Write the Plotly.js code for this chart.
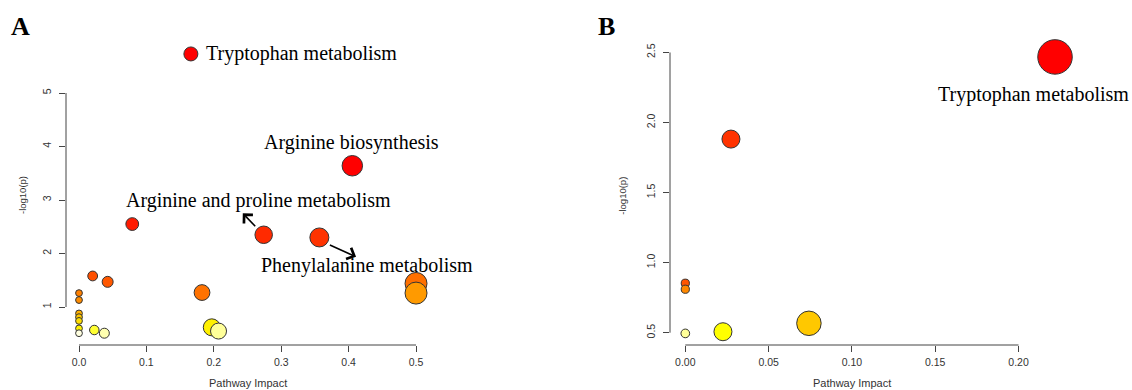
<!DOCTYPE html>
<html>
<head>
<meta charset="utf-8">
<script src="https://cdn.plot.ly/plotly-3.0.1.min.js"></script>
<style>
  html, body { margin: 0; padding: 0; background: #fff; }
  #chart { width: 1132px; height: 390px; }
</style>
</head>
<body>
<div id="chart"></div>
<script>
// ---------- Panel A data ----------
var aPathway = ["Tryptophan metabolism", "Arginine biosynthesis", "Arginine and proline metabolism",
  "Phenylalanine metabolism", "pathway 5", "pathway 6", "pathway 7", "pathway 8", "pathway 9",
  "pathway 10", "pathway 11", "pathway 12", "pathway 13", "pathway 14", "pathway 15", "pathway 16",
  "pathway 17", "pathway 18", "pathway 19", "pathway 20", "pathway 21"];
var aImpact = [0.166, 0.4055, 0.274, 0.3566, 0.079, 0.0203, 0.0425, 0.5, 0.5, 0.1825,
  0, 0, 0, 0, 0, 0, 0, 0.0227, 0.0376, 0.197, 0.207];
var aLogP = [5.73, 3.64, 2.35, 2.30, 2.55, 1.58, 1.47, 1.44, 1.26, 1.27,
  1.26, 1.13, 0.88, 0.81, 0.74, 0.60, 0.51, 0.57, 0.51, 0.62, 0.55];

// ---------- Panel B data ----------
var bPathway = ["pathway 1", "pathway 2", "pathway 3", "pathway 4", "pathway 5", "pathway 6", "Tryptophan metabolism"];
var bImpact = [0.0, 0.0226, 0.0742, 0.0, 0.0, 0.0274, 0.2219];
var bLogP = [0.495, 0.507, 0.567, 0.853, 0.81, 1.881, 2.467];

// ---------- tick labels ----------
var aXTicks = [0, 0.1, 0.2, 0.3, 0.4, 0.5];
var aXTickText = ["0.0", "0.1", "0.2", "0.3", "0.4", "0.5"];
var aYTicks = [1, 2, 3, 4, 5];
var bXTicks = [0, 0.05, 0.10, 0.15, 0.20];
var bXTickText = ["0.00", "0.05", "0.10", "0.15", "0.20"];
var bYTicks = [0.5, 1.0, 1.5, 2.0, 2.5];
var bYTickText = ["0.5", "1.0", "1.5", "2.0", "2.5"];

// ---------- styles (kept apart from data) ----------
var aMarkerSize = [14, 20.5, 17.5, 19, 12.8, 9.8, 11, 22, 22, 15.8,
  6.8, 6.8, 6.8, 6.8, 6.8, 6.8, 6.8, 9.5, 10, 17, 16];
var aMarkerColor = ["#FF0000", "#FF0000", "#FF2A00", "#FF3300", "#FF1A00", "#FF5000", "#FF5800",
  "#FF7000", "#FF9A00", "#FF7200", "#FF8000", "#FF8C00", "#FFB000", "#FFC800", "#FFDD00",
  "#FFF200", "#FFFFE0", "#FFFF33", "#FFFFB0", "#FFF000", "#FFFF99"];
var bMarkerSize = [8.7, 18, 24.5, 8.2, 8.2, 18, 34.5];
var bMarkerColor = ["#FFFF99", "#FFFF00", "#FFC800", "#FF5500", "#FF8800", "#FF3300", "#FF0000"];

var serif = "Liberation Serif, Times New Roman, serif";
var sans = "Liberation Sans, Arial, Helvetica, sans-serif";

var traces = [
  {
    type: "scatter", mode: "markers", x: aImpact, y: aLogP, text: aPathway,
    xaxis: "x", yaxis: "y", cliponaxis: false, hoverinfo: "text+x+y",
    marker: { size: aMarkerSize, color: aMarkerColor, opacity: 1, line: { color: "#333", width: 1 } }
  },
  {
    type: "scatter", mode: "markers", x: bImpact, y: bLogP, text: bPathway,
    xaxis: "x2", yaxis: "y2", cliponaxis: false, hoverinfo: "text+x+y",
    marker: { size: bMarkerSize, color: bMarkerColor, opacity: 1, line: { color: "#333", width: 1 } }
  }
];

var tickFont = { family: sans, size: 10.5, color: "#333" };

var axisCommon = {
  showline: false, showgrid: false, zeroline: false,
  ticks: "outside", ticklen: 6, tickwidth: 1, tickcolor: "#444",
  tickfont: tickFont, fixedrange: true
};

// panel A: y = 1 at 307 px, 53.5 px per unit; top of plot area at value 6
var layout = {
  width: 1132, height: 390,
  margin: { l: 0, r: 0, t: 0, b: 0 },
  paper_bgcolor: "#fff", plot_bgcolor: "#fff",
  showlegend: false,
  xaxis: Object.assign({}, axisCommon, {
    domain: [66 / 1132, 500 / 1132], range: [-0.01929, 0.6246], anchor: "y",
    tickvals: aXTicks, ticktext: aXTickText, ticklabelstandoff: 1
  }),
  yaxis: Object.assign({}, axisCommon, {
    domain: [1 - 345 / 390, 1 - 39.5 / 390], range: [0.2897, 6.0], anchor: "x",
    tickvals: aYTicks, tickangle: -90, ticklabelstandoff: 4
  }),
  xaxis2: Object.assign({}, axisCommon, {
    domain: [670 / 1132, 1110 / 1132], range: [-0.00918, 0.2549], anchor: "y2",
    tickvals: bXTicks, ticktext: bXTickText, ticklabelstandoff: 1
  }),
  yaxis2: Object.assign({}, axisCommon, {
    domain: [1 - 345 / 390, 1 - 52.3 / 390], range: [0.4123, 2.5], anchor: "x2",
    tickvals: bYTicks, ticktext: bYTickText, tickangle: -90, ticklabelstandoff: 4
  }),
  shapes: [
    { type: "line", xref: "x domain", yref: "y", x0: 0, x1: 0, y0: aYTicks[0], y1: aYTicks[aYTicks.length - 1], line: { color: "#444", width: 1 } },
    { type: "line", xref: "x", yref: "y domain", x0: aXTicks[0], x1: aXTicks[aXTicks.length - 1], y0: 0, y1: 0, line: { color: "#444", width: 1 } },
    { type: "line", xref: "x2 domain", yref: "y2", x0: 0, x1: 0, y0: bYTicks[0], y1: bYTicks[bYTicks.length - 1], line: { color: "#444", width: 1 } },
    { type: "line", xref: "x2", yref: "y2 domain", x0: bXTicks[0], x1: bXTicks[bXTicks.length - 1], y0: 0, y1: 0, line: { color: "#444", width: 1 } }
  ],
  annotations: [
    // panel letters
    { xref: "paper", yref: "paper", x: 20 / 1132, y: 1 - 27 / 390, text: "<b>A</b>", showarrow: false,
      font: { family: serif, size: 26, color: "#000" }, xanchor: "center", yanchor: "middle" },
    { xref: "paper", yref: "paper", x: 606 / 1132, y: 1 - 27 / 390, text: "<b>B</b>", showarrow: false,
      font: { family: serif, size: 26, color: "#000" }, xanchor: "center", yanchor: "middle" },
    // axis titles
    { xref: "paper", yref: "paper", x: 248 / 1132, y: 1 - 383 / 390, text: "Pathway Impact", showarrow: false,
      font: { family: sans, size: 11, color: "#333" }, xanchor: "center", yanchor: "middle" },
    { xref: "paper", yref: "paper", x: 22 / 1132, y: 1 - 195 / 390, text: "-log10(p)", showarrow: false, textangle: -90,
      font: { family: sans, size: 9.5, color: "#333" }, xanchor: "center", yanchor: "middle" },
    { xref: "paper", yref: "paper", x: 851.7 / 1132, y: 1 - 383 / 390, text: "Pathway Impact", showarrow: false,
      font: { family: sans, size: 11, color: "#333" }, xanchor: "center", yanchor: "middle" },
    { xref: "paper", yref: "paper", x: 621.7 / 1132, y: 1 - 196 / 390, text: "-log10(p)", showarrow: false, textangle: -90,
      font: { family: sans, size: 9.5, color: "#333" }, xanchor: "center", yanchor: "middle" },
    // pathway labels, panel A
    { xref: "x", yref: "y", x: 0.1855, y: aLogP[0], text: aPathway[0], showarrow: false,
      font: { family: serif, size: 20, color: "#000" }, xanchor: "left", yanchor: "middle" },
    { xref: "x", yref: "y", x: 0.4036, y: 4.071, text: aPathway[1], showarrow: false,
      font: { family: serif, size: 20, color: "#000" }, xanchor: "center", yanchor: "middle" },
    { xref: "x", yref: "y", x: 0.2656, y: 2.987, text: aPathway[2], showarrow: false,
      font: { family: serif, size: 20, color: "#000" }, xanchor: "center", yanchor: "middle" },
    { xref: "x", yref: "y", x: 0.4273, y: 1.785, text: aPathway[3], showarrow: false,
      font: { family: serif, size: 20, color: "#000" }, xanchor: "center", yanchor: "middle" },
    // arrows, panel A
    { xref: "x", yref: "y", axref: "x", ayref: "y", x: 0.243, y: 2.75, ax: 0.2636, ay: 2.48, text: "",
      showarrow: true, arrowhead: 4, arrowsize: 1.5, arrowwidth: 1.6, arrowcolor: "#000", standoff: 0, startstandoff: 0 },
    { xref: "x", yref: "y", axref: "x", ayref: "y", x: 0.411, y: 1.94, ax: 0.37, ay: 2.17, text: "",
      showarrow: true, arrowhead: 4, arrowsize: 1.5, arrowwidth: 1.6, arrowcolor: "#000", standoff: 0, startstandoff: 0 },
    // pathway label, panel B
    { xref: "x2", yref: "y2", x: 0.1505, y: 2.2004, text: bPathway[6], showarrow: false,
      font: { family: serif, size: 20, color: "#000" }, xanchor: "left", yanchor: "middle" }
  ]
};

Plotly.newPlot("chart", traces, layout, { displayModeBar: false, staticPlot: true });
</script>
</body>
</html>
